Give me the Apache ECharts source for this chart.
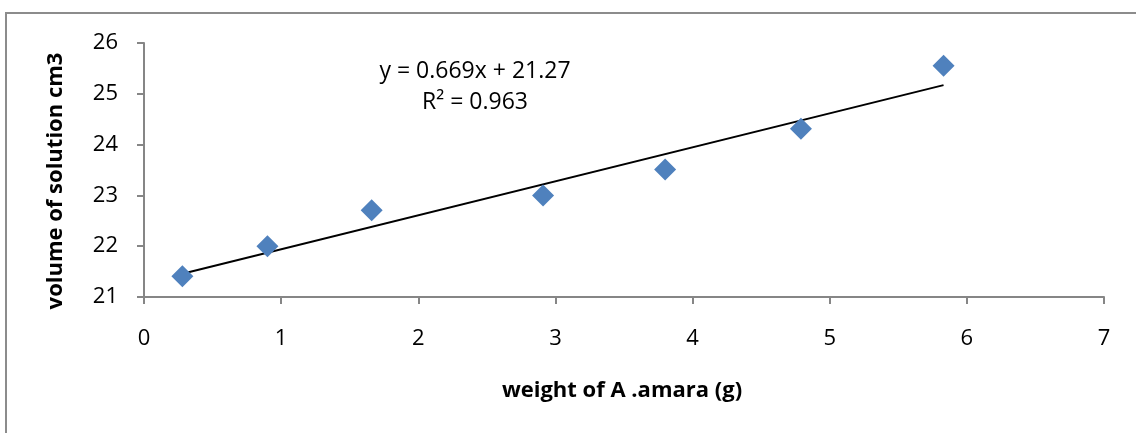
<!DOCTYPE html>
<html>
<head>
<meta charset="utf-8">
<style>
  html, body { margin: 0; padding: 0; background: #fff; }
  #chart { width: 1136px; height: 433px; }
</style>
<script src="https://cdn.jsdelivr.net/npm/echarts@6/dist/echarts.min.js"></script>
</head>
<body>
<div id="chart"></div>
<script>
// Measured samples: weight of A. amara (g) against volume of solution (cm3)
const weights = [0.28, 0.90, 1.66, 2.91, 3.80, 4.79, 5.83];
const volumes = [21.41, 22.0, 22.71, 23.0, 23.51, 24.31, 25.55];

// Linear fit reported on the chart
const slope = 0.669;
const intercept = 21.27;
const rSquared = 0.963;

const xTicks = [0, 1, 2, 3, 4, 5, 6, 7];
const yTicks = [21, 22, 23, 24, 25, 26];

const points = weights.map((w, i) => [w, volumes[i]]);
const xFirst = Math.min(...weights);
const xLast = Math.max(...weights);
const fitLine = [[xFirst, slope * xFirst + intercept], [xLast, slope * xLast + intercept]];

const FONT = '"Open Sans", Lato, sans-serif';
const axisGray = '#868686';

const chart = echarts.init(document.getElementById('chart'), null, { renderer: 'canvas' });

chart.setOption({
  backgroundColor: '#ffffff',
  animation: false,
  grid: { left: 144, right: 32, top: 43, bottom: 136 },
  xAxis: {
    type: 'value',
    min: xTicks[0],
    max: xTicks[xTicks.length - 1],
    interval: 1,
    splitLine: { show: false },
    axisLine: { lineStyle: { color: axisGray, width: 2 } },
    axisTick: { show: true, length: 7, lineStyle: { color: axisGray, width: 2 } },
    axisLabel: { color: '#000', fontFamily: FONT, fontSize: 22, margin: 31 }
  },
  yAxis: {
    type: 'value',
    min: yTicks[0],
    max: yTicks[yTicks.length - 1],
    interval: 1,
    splitLine: { show: false },
    axisLine: { show: true, lineStyle: { color: axisGray, width: 2 } },
    axisTick: { show: true, length: 7, lineStyle: { color: axisGray, width: 2 } },
    axisLabel: { color: '#000', fontFamily: FONT, fontSize: 22, margin: 26 }
  },
  series: [
    {
      type: 'line',
      data: fitLine,
      showSymbol: false,
      symbol: 'none',
      lineStyle: { color: '#000', width: 2 },
      z: 2
    },
    {
      type: 'scatter',
      data: points,
      symbol: 'diamond',
      symbolSize: [22, 22],
      itemStyle: { color: '#4F81BD', opacity: 1 },
      z: 3
    }
  ],
  graphic: [
    {
      type: 'rect',
      shape: { x: 6, y: 13, width: 1300, height: 600 },
      style: { fill: 'none', stroke: '#8c8c8c', lineWidth: 2 },
      silent: true,
      z: -1
    },
    {
      type: 'text',
      x: 475, y: 71,
      style: {
        text: 'y = ' + slope.toFixed(3) + 'x + ' + intercept.toFixed(2),
        fontFamily: FONT, fontSize: 23, fill: '#000',
        align: 'center', verticalAlign: 'middle'
      }
    },
    {
      type: 'text',
      x: 475, y: 102,
      style: {
        text: 'R² = ' + rSquared.toFixed(3),
        fontFamily: FONT, fontSize: 23, fill: '#000',
        align: 'center', verticalAlign: 'middle'
      }
    },
    {
      type: 'text',
      x: 622, y: 391,
      style: {
        text: 'weight of A .amara (g)',
        fontFamily: FONT, fontSize: 22, fontWeight: 'bold', fill: '#000',
        align: 'center', verticalAlign: 'middle'
      }
    },
    {
      type: 'text',
      x: 56, y: 181,
      rotation: Math.PI / 2,
      style: {
        text: 'volume of solution cm3',
        fontFamily: FONT, fontSize: 22, fontWeight: 'bold', fill: '#000',
        align: 'center', verticalAlign: 'middle'
      }
    }
  ]
});
</script>
</body>
</html>
